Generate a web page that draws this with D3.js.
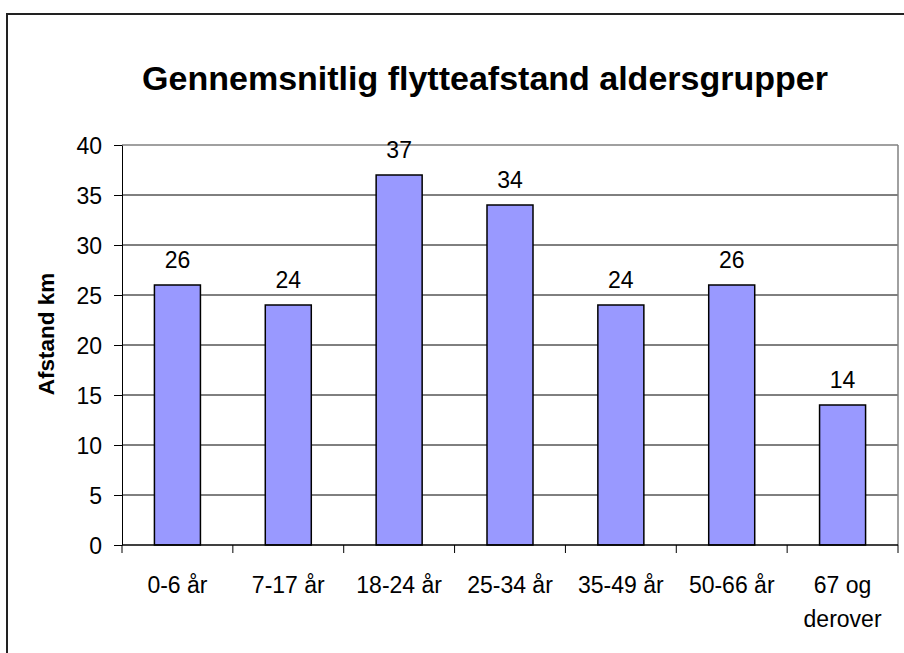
<!DOCTYPE html>
<html>
<head>
<meta charset="utf-8">
<script src="https://cdn.jsdelivr.net/npm/d3@7"></script>
<style>
  body { margin: 0; background: #fff; }
  svg { display: block; font-family: "Liberation Sans", Arial, sans-serif; }
</style>
</head>
<body>
<div id="chart"></div>
<script>
var categories = ["0-6 år", "7-17 år", "18-24 år", "25-34 år", "35-49 år", "50-66 år", "67 og|derover"];
var values = [26, 24, 37, 34, 24, 26, 14];
var yTicks = [0, 5, 10, 15, 20, 25, 30, 35, 40];
var chartTitle = "Gennemsnitlig flytteafstand aldersgrupper";
var yTitle = "Afstand km";

var width = 904, height = 653;
var plotLeft = 122, plotRight = 898, plotTop = 145, plotBottom = 545;

var svg = d3.select("#chart").append("svg")
  .attr("width", width)
  .attr("height", height);

// outer frame
svg.append("rect")
  .attr("x", 7).attr("y", 14)
  .attr("width", width + 20).attr("height", height + 20)
  .style("fill", "#fff")
  .style("stroke", "#222")
  .style("stroke-width", 2);

var x = d3.scaleBand().domain(categories).range([plotLeft, plotRight])
  .paddingInner(0.585).paddingOuter(0.2925);
var y = d3.scaleLinear().domain([0, 40]).range([plotBottom, plotTop]);

// gridlines
svg.append("g")
  .selectAll("line")
  .data(yTicks.filter(function (d) { return d > 0; }))
  .enter()
  .append("line")
  .attr("x1", plotLeft).attr("x2", plotRight)
  .attr("y1", function (d) { return y(d); })
  .attr("y2", function (d) { return y(d); })
  .style("stroke", function (d) { return d == 40 ? "#808080" : "#000"; })
  .style("stroke-width", function (d) { return d == 40 ? 1.5 : 1; });

// right border of plot
svg.append("line")
  .attr("x1", plotRight).attr("x2", plotRight)
  .attr("y1", y(40)).attr("y2", y(0))
  .style("stroke", "#808080").style("stroke-width", 1.5);

// y axis
var yAxis = svg.append("g")
  .attr("transform", "translate(" + plotLeft + ",0)")
  .call(d3.axisLeft(y).tickValues(yTicks).tickSize(8).tickPadding(12).tickSizeOuter(0));
yAxis.select(".domain").style("stroke", "#000");
yAxis.selectAll(".tick line").style("stroke", "#000");
yAxis.selectAll("text")
  .style("font-size", "23px")
  .style("font-family", "Liberation Sans, Arial, sans-serif")
  .style("fill", "#000")
  .attr("dy", "0.36em");

// bars
svg.append("g")
  .selectAll("rect")
  .data(values)
  .enter()
  .append("rect")
  .attr("x", function (d, i) { return x(categories[i]); })
  .attr("y", function (d) { return y(d); })
  .attr("width", x.bandwidth())
  .attr("height", function (d) { return y(0) - y(d); })
  .style("fill", "#9999ff")
  .style("stroke", "#000")
  .style("stroke-width", 1.5);

// value labels
svg.append("g")
  .selectAll("text")
  .data(values)
  .enter()
  .append("text")
  .attr("x", function (d, i) { return x(categories[i]) + x.bandwidth() / 2; })
  .attr("y", function (d) { return y(d) - 17; })
  .attr("text-anchor", "middle")
  .style("font-size", "23px")
  .text(function (d) { return d; });

// x axis
svg.append("line")
  .attr("x1", plotLeft).attr("x2", plotRight)
  .attr("y1", y(0)).attr("y2", y(0))
  .style("stroke", "#000").style("stroke-width", 1.5);

var bounds = d3.range(categories.length + 1);
svg.append("g")
  .selectAll("line")
  .data(bounds)
  .enter()
  .append("line")
  .attr("x1", function (d) { return plotLeft + d * x.step(); })
  .attr("x2", function (d) { return plotLeft + d * x.step(); })
  .attr("y1", y(0)).attr("y2", y(0) + 8)
  .style("stroke", "#000");

var xl = svg.append("g")
  .selectAll("text")
  .data(categories)
  .enter()
  .append("text")
  .attr("x", function (d) { return x(d) + x.bandwidth() / 2; })
  .attr("y", 593)
  .attr("text-anchor", "middle")
  .style("font-size", "23px");
xl.each(function (d) {
  var lines = d.split("|");
  var t = d3.select(this);
  lines.forEach(function (s, i) {
    t.append("tspan")
      .attr("x", t.attr("x"))
      .attr("dy", i == 0 ? 0 : 34)
      .text(s);
  });
});

// title
svg.append("text")
  .attr("x", 485).attr("y", 90)
  .attr("text-anchor", "middle")
  .style("font-size", "34px")
  .style("font-weight", "bold")
  .text(chartTitle);

// y title
svg.append("text")
  .attr("transform", "translate(54,334) rotate(-90)")
  .attr("text-anchor", "middle")
  .style("font-size", "22.5px")
  .style("font-weight", "bold")
  .text(yTitle);
</script>
</body>
</html>
